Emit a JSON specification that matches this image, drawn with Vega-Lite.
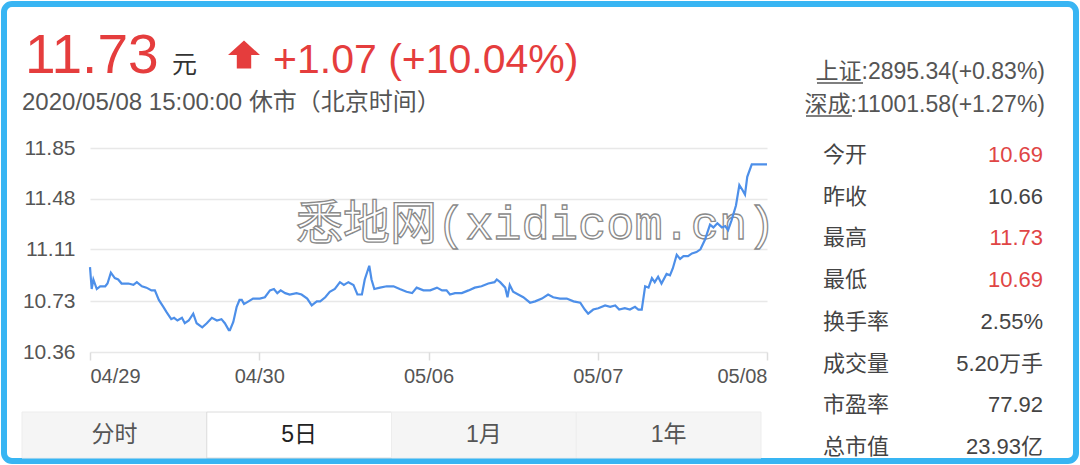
{
  "$schema": "https://vega.github.io/schema/vega-lite/v6.json",
  "width": 1072,
  "height": 457,
  "padding": 4,
  "autosize": {"type": "none"},
  "background": "#ffffff",
  "config": {
    "view": {"stroke": "#38b5f3", "strokeWidth": 6, "cornerRadius": 8},
    "font": "Liberation Sans, Noto Sans CJK SC",
    "text": {"font": "Liberation Sans, Noto Sans CJK SC"}
  },
  "resolve": {"scale": {"x": "independent", "y": "independent"}},
  "layer": [
    {
      "data": {"values": [{"text": "悉地网(xidicom.cn)"}]},
      "mark": {"type": "text", "font": "Liberation Mono, Noto Sans CJK SC", "fontSize": 47, "fill": "#ffffff", "stroke": "#8a8a8a", "strokeWidth": 1.3, "align": "center", "baseline": "middle"},
      "encoding": {
        "x": {"datum": 790, "type": "quantitative", "scale": {"domain": [0, 1200], "range": [86, 763], "nice": false, "zero": false}, "axis": null},
        "y": {"datum": 11.29, "type": "quantitative", "scale": {"domain": [10.36, 11.85], "range": [348, 144], "nice": false, "zero": false}, "axis": null},
        "text": {"field": "text"}
      }
    },
    {
      "data": {"values": [
        {"t":0,"p":10.98},{"t":3,"p":10.82},{"t":6,"p":10.89},{"t":12,"p":10.82},{"t":18,"p":10.84},{"t":27,"p":10.84},{"t":31,"p":10.86},{"t":37,"p":10.94},{"t":44,"p":10.90},{"t":50,"p":10.89},{"t":56,"p":10.86},{"t":68,"p":10.86},{"t":77,"p":10.85},{"t":83,"p":10.87},{"t":92,"p":10.84},{"t":100,"p":10.83},{"t":109,"p":10.81},{"t":115,"p":10.81},{"t":122,"p":10.74},{"t":130,"p":10.69},{"t":136,"p":10.65},{"t":144,"p":10.60},{"t":149,"p":10.61},{"t":155,"p":10.59},{"t":163,"p":10.61},{"t":168,"p":10.57},{"t":175,"p":10.59},{"t":183,"p":10.64},{"t":189,"p":10.57},{"t":199,"p":10.54},{"t":207,"p":10.57},{"t":216,"p":10.61},{"t":225,"p":10.59},{"t":233,"p":10.60},{"t":239,"p":10.57},{"t":246,"p":10.52},{"t":248,"p":10.52},{"t":254,"p":10.58},{"t":260,"p":10.69},{"t":265,"p":10.74},{"t":269,"p":10.74},{"t":273,"p":10.71},{"t":281,"p":10.73},{"t":289,"p":10.75},{"t":301,"p":10.75},{"t":310,"p":10.76},{"t":319,"p":10.81},{"t":326,"p":10.82},{"t":332,"p":10.79},{"t":338,"p":10.81},{"t":346,"p":10.79},{"t":354,"p":10.78},{"t":366,"p":10.79},{"t":375,"p":10.78},{"t":385,"p":10.75},{"t":393,"p":10.70},{"t":402,"p":10.73},{"t":408,"p":10.73},{"t":417,"p":10.76},{"t":425,"p":10.80},{"t":434,"p":10.82},{"t":443,"p":10.87},{"t":450,"p":10.85},{"t":458,"p":10.87},{"t":467,"p":10.85},{"t":474,"p":10.78},{"t":482,"p":10.78},{"t":487,"p":10.89},{"t":495,"p":10.99},{"t":499,"p":10.89},{"t":504,"p":10.82},{"t":514,"p":10.83},{"t":526,"p":10.84},{"t":538,"p":10.84},{"t":549,"p":10.82},{"t":561,"p":10.80},{"t":571,"p":10.79},{"t":579,"p":10.83},{"t":591,"p":10.81},{"t":603,"p":10.81},{"t":615,"p":10.83},{"t":624,"p":10.81},{"t":632,"p":10.81},{"t":638,"p":10.78},{"t":647,"p":10.79},{"t":659,"p":10.79},{"t":671,"p":10.81},{"t":682,"p":10.83},{"t":694,"p":10.84},{"t":706,"p":10.86},{"t":717,"p":10.87},{"t":721,"p":10.89},{"t":727,"p":10.87},{"t":736,"p":10.83},{"t":740,"p":10.76},{"t":744,"p":10.85},{"t":750,"p":10.80},{"t":759,"p":10.78},{"t":768,"p":10.76},{"t":780,"p":10.72},{"t":789,"p":10.73},{"t":801,"p":10.75},{"t":812,"p":10.78},{"t":821,"p":10.76},{"t":833,"p":10.75},{"t":845,"p":10.75},{"t":857,"p":10.73},{"t":869,"p":10.72},{"t":877,"p":10.67},{"t":883,"p":10.64},{"t":892,"p":10.67},{"t":901,"p":10.68},{"t":913,"p":10.70},{"t":922,"p":10.69},{"t":931,"p":10.70},{"t":938,"p":10.67},{"t":948,"p":10.68},{"t":957,"p":10.67},{"t":966,"p":10.69},{"t":972,"p":10.67},{"t":978,"p":10.67},{"t":984,"p":10.84},{"t":990,"p":10.83},{"t":996,"p":10.90},{"t":1001,"p":10.87},{"t":1007,"p":10.91},{"t":1013,"p":10.86},{"t":1022,"p":10.93},{"t":1028,"p":10.92},{"t":1033,"p":10.97},{"t":1040,"p":11.07},{"t":1046,"p":11.04},{"t":1052,"p":11.06},{"t":1060,"p":11.06},{"t":1067,"p":11.08},{"t":1075,"p":11.09},{"t":1082,"p":11.11},{"t":1090,"p":11.18},{"t":1099,"p":11.29},{"t":1105,"p":11.27},{"t":1112,"p":11.30},{"t":1120,"p":11.27},{"t":1126,"p":11.28},{"t":1131,"p":11.25},{"t":1137,"p":11.32},{"t":1145,"p":11.43},{"t":1151,"p":11.58},{"t":1157,"p":11.54},{"t":1161,"p":11.51},{"t":1165,"p":11.64},{"t":1173,"p":11.73},{"t":1200,"p":11.73}
      ]},
      "mark": {"type": "line", "stroke": "#4d8fe9", "strokeWidth": 2.2, "interpolate": "linear"},
      "encoding": {
        "x": {
          "field": "t", "type": "quantitative",
          "scale": {"domain": [0, 1200], "range": [86, 763], "nice": false, "zero": false},
          "axis": {
            "title": null, "orient": "bottom", "offset": -109, "grid": false, "domain": false,
            "values": [0, 300, 600, 900, 1200],
            "labelExpr": "['04/29','04/30','05/06','05/07','05/08'][round(datum.value/300)]",
            "ticks": true, "tickSize": 8, "tickColor": "#dddddd", "tickWidth": 1.5,
            "labelFlush": true, "labelPadding": 6, "labelFontSize": 20, "labelColor": "#555555",
            "labelFont": "Liberation Sans"
          }
        },
        "y": {
          "field": "p", "type": "quantitative",
          "scale": {"domain": [10.36, 11.85], "range": [348, 144], "nice": false, "zero": false},
          "axis": {
            "title": null, "orient": "left", "offset": -71, "domain": false, "ticks": false, "tickSize": 0,
            "labelPadding": 0, "values": [10.36, 10.73, 11.11, 11.48, 11.85], "format": ".2f",
            "grid": true, "gridColor": "#e8e8e8", "gridWidth": 1.5,
            "labelFontSize": 21, "labelColor": "#555555", "labelFont": "Liberation Sans"
          }
        }
      }
    },
    {
      "data": {"values": [
        {"part": "price", "line": "1", "text": "11.73"},
        {"part": "unit", "line": "1", "text": "元"},
        {"part": "change", "line": "1", "text": "+1.07 (+10.04%)"},
        {"part": "time", "line": "2", "text": "2020/05/08 15:00:00 休市（北京时间）"}
      ]},
      "encoding": {
        "x": {"datum": "left", "type": "nominal", "scale": {"type": "point", "domain": ["left", "right"], "padding": 0}, "axis": null},
        "y": {"field": "line", "type": "nominal", "scale": {"type": "point", "domain": ["1", "2"], "range": [69, 106], "padding": 0}, "axis": null},
        "text": {"field": "text"}
      },
      "layer": [
        {"transform": [{"filter": "datum.part == 'price'"}], "mark": {"type": "text", "align": "left", "baseline": "alphabetic", "dx": 21, "fontSize": 55, "fill": "#e53d3d"}},
        {"transform": [{"filter": "datum.part == 'unit'"}], "mark": {"type": "text", "align": "left", "baseline": "alphabetic", "dx": 168, "fontSize": 25, "fill": "#333333"}},
        {"transform": [{"filter": "datum.part == 'change'"}], "mark": {"type": "text", "align": "left", "baseline": "alphabetic", "dx": 269, "fontSize": 41, "fill": "#e53d3d"}},
        {"transform": [{"filter": "datum.part == 'time'"}], "mark": {"type": "text", "align": "left", "baseline": "alphabetic", "dx": 18, "fontSize": 24, "fill": "#555555"}}
      ]
    },
    {
      "data": {"values": [{"part": "arrow", "direction": "up"}]},
      "mark": {"type": "point", "filled": true, "shape": "M0,-0.9L1,0L0.45,0L0.45,0.85L-0.45,0.85L-0.45,0L-1,0Z", "size": 1024, "fill": "#e53d3d", "opacity": 1, "strokeWidth": 0},
      "encoding": {
        "x": {"field": "part", "type": "nominal", "scale": {"type": "point", "domain": ["arrow"], "range": [240, 240], "padding": 0}, "axis": null},
        "y": {"field": "part", "type": "nominal", "scale": {"type": "point", "domain": ["arrow"], "range": [51, 51], "padding": 0}, "axis": null}
      }
    },
    {
      "data": {"values": [
        {"name": "上证", "text": "上证:2895.34(+0.83%)"},
        {"name": "深成", "text": "深成:11001.58(+1.27%)"}
      ]},
      "encoding": {
        "y": {"field": "name", "type": "nominal", "scale": {"type": "point", "domain": ["上证", "深成"], "range": [68, 101], "padding": 0}, "axis": null}
      },
      "layer": [
        {
          "mark": {"type": "text", "align": "right", "baseline": "middle", "dx": -31, "fontSize": 23, "fill": "#555555"},
          "encoding": {
            "x": {"datum": "right", "type": "nominal", "scale": {"type": "point", "domain": ["left", "right"], "padding": 0}, "axis": null},
            "text": {"field": "text"}
          }
        },
        {
          "transform": [{"filter": "datum.name == '上证'"}],
          "mark": {"type": "rule", "xOffset": 813, "x2Offset": 859, "yOffset": 11, "stroke": "#555555", "strokeWidth": 1.5},
          "encoding": {
            "x": {"datum": "left", "type": "nominal", "scale": {"type": "point", "domain": ["left", "right"], "padding": 0}, "axis": null},
            "x2": {"datum": "left"}
          }
        },
        {
          "transform": [{"filter": "datum.name == '深成'"}],
          "mark": {"type": "rule", "xOffset": 802, "x2Offset": 848, "yOffset": 11, "stroke": "#555555", "strokeWidth": 1.5},
          "encoding": {
            "x": {"datum": "left", "type": "nominal", "scale": {"type": "point", "domain": ["left", "right"], "padding": 0}, "axis": null},
            "x2": {"datum": "left"}
          }
        }
      ]
    },
    {
      "data": {"values": [
        {"label": "今开", "value": "10.69", "up": true},
        {"label": "昨收", "value": "10.66", "up": false},
        {"label": "最高", "value": "11.73", "up": true},
        {"label": "最低", "value": "10.69", "up": true},
        {"label": "换手率", "value": "2.55%", "up": false},
        {"label": "成交量", "value": "5.20万手", "up": false},
        {"label": "市盈率", "value": "77.92", "up": false},
        {"label": "总市值", "value": "23.93亿", "up": false}
      ]},
      "encoding": {
        "y": {"field": "label", "type": "nominal", "sort": null, "scale": {"type": "point", "domain": ["今开", "昨收", "最高", "最低", "换手率", "成交量", "市盈率", "总市值"], "range": [151, 443], "padding": 0}, "axis": null}
      },
      "layer": [
        {
          "mark": {"type": "text", "align": "left", "baseline": "middle", "dx": 819, "fontSize": 22, "fill": "#444444"},
          "encoding": {
            "x": {"datum": "left", "type": "nominal", "scale": {"type": "point", "domain": ["left", "right"], "padding": 0}, "axis": null},
            "text": {"field": "label"}
          }
        },
        {
          "mark": {"type": "text", "align": "right", "baseline": "middle", "dx": -33, "fontSize": 22},
          "encoding": {
            "x": {"datum": "right", "type": "nominal", "scale": {"type": "point", "domain": ["left", "right"], "padding": 0}, "axis": null},
            "text": {"field": "value"},
            "fill": {"condition": {"test": "datum.up", "value": "#e04545"}, "value": "#444444"}
          }
        }
      ]
    },
    {
      "data": {"values": [
        {"tab": "分时", "selected": false},
        {"tab": "5日", "selected": true},
        {"tab": "1月", "selected": false},
        {"tab": "1年", "selected": false}
      ]},
      "encoding": {
        "x": {"field": "tab", "type": "nominal", "sort": null, "scale": {"type": "band", "domain": ["分时", "5日", "1月", "1年"], "range": [18, 757], "paddingInner": 0, "paddingOuter": 0}, "axis": null},
        "y": {"datum": "tabs", "type": "nominal", "scale": {"type": "band", "domain": ["tabs"], "range": [408, 454], "paddingInner": 0, "paddingOuter": 0}, "axis": null}
      },
      "layer": [
        {
          "mark": {"type": "rect", "strokeWidth": 1},
          "encoding": {
            "fill": {"condition": {"test": "datum.selected", "value": "#ffffff"}, "value": "#f5f5f5"},
            "stroke": {"condition": {"test": "datum.selected", "value": "#dcdcdc"}, "value": "#ededed"}
          }
        },
        {
          "mark": {"type": "text", "align": "center", "baseline": "middle", "fontSize": 23},
          "encoding": {
            "text": {"field": "tab"},
            "fill": {"condition": {"test": "datum.selected", "value": "#222222"}, "value": "#555555"}
          }
        }
      ]
    }
  ]
}
